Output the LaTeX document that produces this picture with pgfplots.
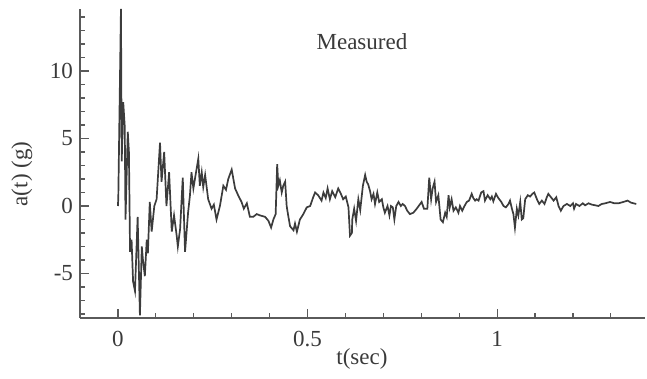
\documentclass[border=0pt]{standalone}
\usepackage{pgfplots}
\pgfplotsset{compat=1.18}
\usepackage{fontspec}
\setmainfont{Liberation Serif}
\definecolor{axgray}{HTML}{5A5A5A}
\definecolor{txtgray}{HTML}{3A3A3A}
\definecolor{linegray}{HTML}{3C3C3C}
\begin{document}
\begin{tikzpicture}
\useasboundingbox (0,0) rectangle (323.5pt,189.5pt);
\begin{axis}[
  at={(40pt,30.5pt)}, anchor=south west,
  scale only axis, width=282.5pt, height=154.5pt,
  xmin=-0.1, xmax=1.39, ymin=-8.3, ymax=14.6,
  axis lines*=left,
  axis line style={axgray, line width=0.7pt},
  tick align=inside,
  xtick={0,0.5,1}, xticklabels={0,0.5,1},
  minor xtick={0.1,0.2,0.3,0.4,0.6,0.7,0.8,0.9,1.1,1.2,1.3},
  ytick={-5,0,5,10},
  minor ytick={-8,-7,-6,-4,-3,-2,-1,1,2,3,4,6,7,8,9,11,12,13,14},
  major tick length=4.5pt, minor tick length=2.5pt,
  every tick/.style={axgray, line width=0.6pt},
  tick label style={font=\fontsize{11.5}{13}\selectfont, text=txtgray},
  xticklabel style={yshift=-3pt},
  /pgf/number format/assume math mode=true,
  clip=false,
]
\addplot[linegray, line width=0.85pt] table {
t a
0.000 0.0
0.001 0.6
0.008 14.6
0.010 3.3
0.014 7.7
0.018 5.9
0.020 -1.0
0.026 5.5
0.029 4.0
0.032 -3.4
0.036 -2.5
0.040 -5.6
0.045 -6.3
0.052 -0.8
0.058 -8.1
0.063 -3.0
0.066 -4.0
0.071 -5.2
0.076 -2.5
0.079 -3.5
0.084 0.3
0.089 -1.9
0.096 0.0
0.102 0.5
0.111 4.7
0.115 1.8
0.122 4.0
0.128 0.0
0.135 2.5
0.142 -1.9
0.148 -0.7
0.155 -2.2
0.158 -3.0
0.164 -1.7
0.171 2.1
0.177 -3.4
0.185 -0.5
0.190 0.8
0.194 2.5
0.199 1.3
0.206 2.5
0.212 3.5
0.216 1.5
0.221 2.5
0.225 1.4
0.230 2.3
0.238 0.5
0.247 -0.2
0.253 0.1
0.260 -1.0
0.269 0.0
0.278 1.5
0.285 1.2
0.291 2.0
0.300 2.7
0.309 1.3
0.317 0.8
0.326 0.3
0.332 -0.2
0.340 0.2
0.348 -0.8
0.357 -0.8
0.366 -0.6
0.375 -0.7
0.388 -0.8
0.397 -1.1
0.404 -1.6
0.410 -1.0
0.416 -0.6
0.420 3.1
0.423 1.5
0.427 1.9
0.432 1.0
0.436 1.5
0.441 1.8
0.445 0.0
0.449 -0.7
0.454 -1.5
0.463 -1.8
0.467 -1.3
0.472 -1.9
0.480 -1.0
0.489 -0.6
0.498 -0.1
0.507 0.0
0.515 0.65
0.520 1.0
0.528 0.8
0.537 0.4
0.542 1.0
0.548 0.6
0.553 1.3
0.559 0.5
0.565 1.1
0.573 0.65
0.581 1.3
0.588 0.9
0.594 0.5
0.601 0.7
0.608 -0.1
0.612 -2.2
0.617 -2.0
0.618 -1.0
0.623 -0.2
0.628 -1.1
0.634 0.5
0.639 -0.3
0.646 1.5
0.652 2.3
0.656 1.8
0.660 1.6
0.665 1.1
0.669 0.5
0.674 0.9
0.678 0.15
0.684 1.0
0.689 0.3
0.696 0.5
0.700 -0.1
0.704 -0.5
0.711 0.0
0.716 -0.7
0.720 0.0
0.725 -0.1
0.729 -1.0
0.734 0.0
0.740 0.3
0.746 0.0
0.751 0.15
0.757 0.0
0.763 -0.35
0.770 -0.6
0.779 -0.5
0.788 -0.2
0.797 0.15
0.801 0.3
0.807 -0.2
0.816 -0.2
0.821 2.1
0.826 0.5
0.830 1.3
0.835 1.8
0.839 0.3
0.845 0.8
0.851 -1.0
0.857 -1.2
0.863 -0.5
0.867 -0.8
0.872 0.8
0.875 -0.1
0.880 0.5
0.885 -0.35
0.891 -0.1
0.898 -0.5
0.902 0.0
0.908 -0.35
0.914 0.0
0.920 0.3
0.926 0.4
0.933 0.9
0.937 0.6
0.942 0.4
0.946 0.5
0.951 0.4
0.958 1.0
0.964 1.1
0.968 0.4
0.975 0.8
0.982 0.5
0.986 0.7
0.990 0.35
0.997 0.9
1.003 0.6
1.011 0.3
1.017 0.0
1.023 -0.1
1.030 0.15
1.034 0.4
1.039 -0.2
1.043 -0.6
1.047 -1.6
1.052 -0.2
1.056 -0.7
1.061 0.3
1.065 -1.0
1.069 -0.9
1.074 0.5
1.081 0.8
1.087 0.7
1.093 0.9
1.098 1.0
1.105 0.5
1.111 0.15
1.118 0.4
1.125 0.15
1.131 0.65
1.135 0.9
1.142 0.65
1.149 0.4
1.156 0.65
1.162 0.0
1.168 -0.35
1.175 0.0
1.184 0.15
1.193 0.0
1.200 0.2
1.203 -0.2
1.208 0.15
1.217 0.0
1.226 0.2
1.232 0.05
1.241 0.2
1.250 0.1
1.259 0.05
1.267 0.0
1.276 0.15
1.285 0.2
1.298 0.3
1.309 0.2
1.320 0.2
1.333 0.3
1.344 0.4
1.353 0.25
1.360 0.2
1.367 0.15
};
\node[text=txtgray, font=\fontsize{11.5}{13}\selectfont] at (rel axis cs:0.499,0.893) {Measured};
\node[text=txtgray, font=\fontsize{11.5}{13}\selectfont] at (rel axis cs:0.499,-0.1327) {t(sec)};
\node[text=txtgray, font=\fontsize{11.5}{13}\selectfont, rotate=90] at (rel axis cs:-0.1027,0.466) {a(t) (g)};
\end{axis}
\end{tikzpicture}
\end{document}
